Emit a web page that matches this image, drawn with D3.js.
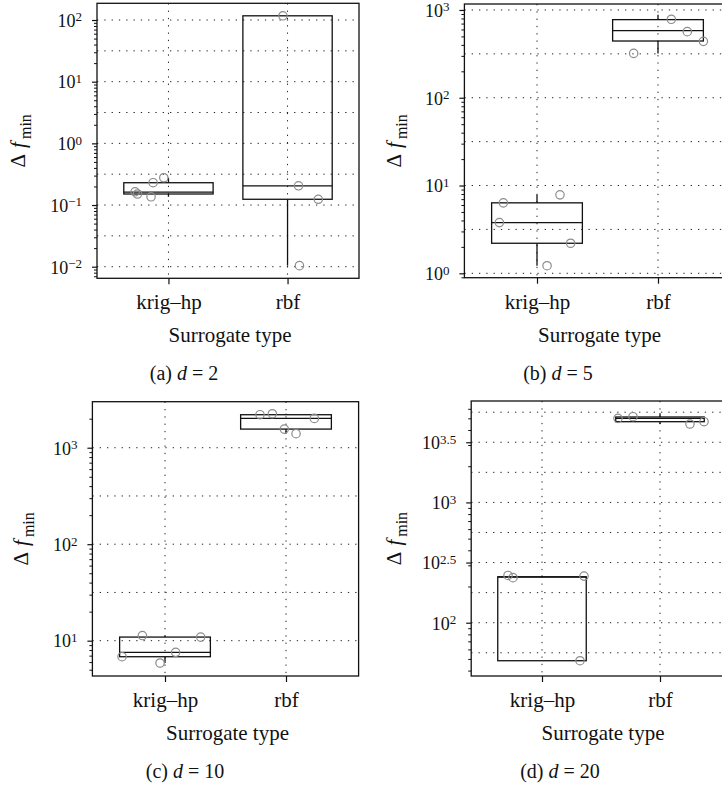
<!DOCTYPE html>
<html>
<head>
<meta charset="utf-8">
<script src="https://cdn.jsdelivr.net/npm/d3@7"></script>
<style>
  html, body { margin: 0; padding: 0; background: #fff; }
  svg, svg text { font-family: "Liberation Serif", "Times New Roman", serif; }
  svg { display: block; }
</style>
</head>
<body>
<svg id="fig" width="722" height="788"></svg>
<script>
// ---------- data ----------
const categories = ["krig–hp", "rbf"];
const dimensions = [2, 5, 10, 20];
const panelTags = ["(a)", "(b)", "(c)", "(d)"];

// y-axis limits, as log10 exponents
const limits_d2 = [-2.188, 2.271];
const limits_d5 = [-0.050, 3.068];
const limits_d10 = [0.634, 3.477];
const limits_d20 = [1.557, 3.843];

// labelled tick exponents (10^e)
const ticks_d2 = [-2, -1, 0, 1, 2];
const ticks_d5 = [0, 1, 2, 3];
const ticks_d10 = [1, 2, 3];
const ticks_d20 = [2, 2.5, 3, 3.5];

// spacing of the dotted reference lines, in decades
const gridStep_d2 = 0.5;
const gridStep_d5 = 0.5;
const gridStep_d10 = 0.5;
const gridStep_d20 = 0.25;

// box summaries: [lower whisker, Q1, median, Q3, upper whisker]
const boxKrig_d2 = [0.136, 0.151, 0.162, 0.23, 0.277];
const boxRbf_d2 = [0.0104, 0.124, 0.205, 117, 117];
const boxKrig_d5 = [1.22, 2.2, 3.78, 6.35, 7.83];
const boxRbf_d5 = [320, 443, 581, 776, 885];
const boxKrig_d10 = [5.87, 6.82, 7.57, 10.9, 11.3];
const boxRbf_d10 = [1397, 1560, 2014, 2198, 2250];
const boxKrig_d20 = [48.3, 48.3, 239, 241, 247];
const boxRbf_d20 = [4487, 4688, 5000, 5129, 5500];

// individual runs (Δf_min) and their jittered category positions
const runsKrig_d2 = [0.164, 0.151, 0.136, 0.23, 0.277];
const jitKrig_d2 = [-0.28, -0.26, -0.146, -0.129, -0.039];
const runsRbf_d2 = [117, 0.205, 0.124, 0.0104];
const jitRbf_d2 = [-0.039, 0.092, 0.258, 0.10];

const runsKrig_d5 = [6.35, 3.78, 7.83, 2.2, 1.22];
const jitKrig_d5 = [-0.278, -0.311, 0.19, 0.278, 0.083];
const runsRbf_d5 = [783, 566, 439, 320];
const jitRbf_d5 = [0.11, 0.242, 0.375, -0.201];

const runsKrig_d10 = [6.82, 11.3, 5.87, 7.57, 10.9];
const jitKrig_d10 = [-0.355, -0.187, -0.041, 0.088, 0.295];
const runsRbf_d10 = [2198, 2250, 1560, 1397, 2014];
const jitRbf_d10 = [-0.215, -0.113, -0.014, 0.083, 0.234];

const runsKrig_d20 = [247, 237, 244, 48.3];
const jitKrig_d20 = [-0.288, -0.246, 0.356, 0.322];
const runsRbf_d20 = [5000, 5159, 4487, 4688];
const jitRbf_d20 = [-0.356, -0.229, 0.254, 0.373];

// ---------- panel layout ----------
const panels = [
  { tag: panelTags[0], dim: dimensions[0], limits: limits_d2, ticks: ticks_d2, step: gridStep_d2,
    boxes: [boxKrig_d2, boxRbf_d2], runs: [runsKrig_d2, runsRbf_d2], jit: [jitKrig_d2, jitRbf_d2],
    x0: 97, x1: 359, y0: 3.3, y1: 278.3, ylabX: 25, capX: 184 },
  { tag: panelTags[1], dim: dimensions[1], limits: limits_d5, ticks: ticks_d5, step: gridStep_d5,
    boxes: [boxKrig_d5, boxRbf_d5], runs: [runsKrig_d5, runsRbf_d5], jit: [jitKrig_d5, jitRbf_d5],
    x0: 464.4, x1: 730.6, y0: 4, y1: 277.7, ylabX: 401, capX: 558 },
  { tag: panelTags[2], dim: dimensions[2], limits: limits_d10, ticks: ticks_d10, step: gridStep_d10,
    boxes: [boxKrig_d10, boxRbf_d10], runs: [runsKrig_d10, runsRbf_d10], jit: [jitKrig_d10, jitRbf_d10],
    x0: 92.4, x1: 358.6, y0: 401.7, y1: 676, ylabX: 28, capX: 185 },
  { tag: panelTags[3], dim: dimensions[3], limits: limits_d20, ticks: ticks_d20, step: gridStep_d20,
    boxes: [boxKrig_d20, boxRbf_d20], runs: [runsKrig_d20, runsRbf_d20], jit: [jitKrig_d20, jitRbf_d20],
    x0: 471.2, x1: 730.8, y0: 401, y1: 676, ylabX: 401, capX: 560 }
];

const svg = d3.select("#fig");
const INK = "#111";
const DOTS = "1.3 6";
const SERIF = '"Liberation Serif", "Times New Roman", serif';

function drawPanel(p) {
  const g = svg.append("g");
  const x = d3.scaleLinear().domain([0.4, 2.6]).range([p.x0, p.x1]);
  const y = d3.scaleLog().domain([10 ** p.limits[0], 10 ** p.limits[1]]).range([p.y1, p.y0]);
  const halfBox = 0.375;

  // dotted horizontal reference lines
  const gridExp = d3.range(Math.ceil(p.limits[0] / p.step) * p.step, p.limits[1], p.step);
  g.append("g").selectAll("line").data(gridExp).join("line")
    .attr("x1", p.x0).attr("x2", p.x1)
    .attr("y1", e => y(10 ** e)).attr("y2", e => y(10 ** e))
    .attr("stroke", "#222").attr("stroke-width", 1).attr("stroke-dasharray", DOTS);

  // dotted vertical reference lines at the categories
  g.append("g").selectAll("line").data([1, 2]).join("line")
    .attr("x1", d => x(d)).attr("x2", d => x(d))
    .attr("y1", p.y0).attr("y2", p.y1)
    .attr("stroke", "#222").attr("stroke-width", 1).attr("stroke-dasharray", DOTS);

  // box-and-whisker marks
  p.boxes.forEach((b, i) => {
    const cx = x(i + 1);
    const bg = g.append("g").attr("stroke", INK).attr("stroke-width", 1.3).attr("fill", "none");
    bg.append("line").attr("x1", cx).attr("x2", cx).attr("y1", y(b[1])).attr("y2", y(b[0]));
    bg.append("line").attr("x1", cx).attr("x2", cx).attr("y1", y(b[3])).attr("y2", y(b[4]));
    bg.append("rect")
      .attr("x", x(i + 1 - halfBox)).attr("width", x(i + 1 + halfBox) - x(i + 1 - halfBox))
      .attr("y", y(b[3])).attr("height", y(b[1]) - y(b[3]));
    bg.append("line").attr("x1", x(i + 1 - halfBox)).attr("x2", x(i + 1 + halfBox))
      .attr("y1", y(b[2])).attr("y2", y(b[2]));
  });

  // jittered runs
  p.runs.forEach((vals, i) => {
    g.append("g").selectAll("circle").data(vals).join("circle")
      .attr("cx", (v, k) => x(i + 1 + p.jit[i][k]))
      .attr("cy", v => y(v))
      .attr("r", 4.2)
      .attr("fill", "none").attr("stroke", "#8c8c8c").attr("stroke-width", 1.2);
  });

  // panel frame
  g.append("rect").attr("x", p.x0).attr("y", p.y0)
    .attr("width", p.x1 - p.x0).attr("height", p.y1 - p.y0)
    .attr("fill", "none").attr("stroke", INK).attr("stroke-width", 1.3);

  // minor log ticks
  const minors = [];
  for (let k = Math.floor(p.limits[0]); k <= Math.ceil(p.limits[1]); k++) {
    for (let m = 2; m <= 9; m++) {
      const v = m * 10 ** k;
      const e = Math.log10(v);
      if (e > p.limits[0] && e < p.limits[1]) minors.push(v);
    }
  }
  const minorAxis = g.append("g").attr("transform", `translate(${p.x0},0)`)
    .call(d3.axisLeft(y).tickValues(minors).tickSize(3).tickSizeOuter(0).tickFormat(() => ""));
  minorAxis.select(".domain").remove();
  minorAxis.selectAll(".tick line").attr("stroke", INK).attr("stroke-width", 1);

  // major ticks with 10^e labels
  const majorAxis = g.append("g").attr("transform", `translate(${p.x0},0)`)
    .call(d3.axisLeft(y).tickValues(p.ticks.map(e => 10 ** e)).tickSize(5)
      .tickSizeOuter(0).tickPadding(10).tickFormat(() => ""));
  majorAxis.attr("font-family", null).attr("font-size", null);
  majorAxis.select(".domain").remove();
  majorAxis.selectAll(".tick line").attr("stroke", INK).attr("stroke-width", 1.2);
  majorAxis.selectAll(".tick text")
    .style("font-family", SERIF).style("font-size", "18px")
    .attr("fill", INK).attr("dy", "0.35em")
    .each(function (v) {
      const e = Math.round(Math.log10(v) * 100) / 100;
      const t = d3.select(this);
      t.append("tspan").style("font-size", "18px").text("10");
      t.append("tspan").style("font-size", "13px").attr("dy", "-0.42em")
        .text(String(e).replace("-", "\u2212"));
    });

  // category axis
  const catAxis = g.append("g").attr("transform", `translate(0,${p.y1})`)
    .call(d3.axisBottom(x).tickValues([1, 2]).tickSize(6).tickSizeOuter(0).tickPadding(10)
      .tickFormat(d => categories[d - 1]));
  catAxis.attr("font-family", null).attr("font-size", null);
  catAxis.select(".domain").remove();
  catAxis.selectAll(".tick line").attr("stroke", INK).attr("stroke-width", 1.2);
  catAxis.selectAll(".tick text").style("font-family", SERIF)
    .style("font-size", "21px").attr("fill", INK);

  // axis titles
  g.append("text").attr("x", (p.x0 + p.x1) / 2 + 2).attr("y", p.y1 + 64)
    .attr("text-anchor", "middle").style("font-size", "21px").attr("fill", INK)
    .text("Surrogate type");

  const yl = g.append("text")
    .attr("transform", `translate(${p.ylabX},${(p.y0 + p.y1) / 2}) rotate(-90)`)
    .attr("text-anchor", "middle").attr("fill", INK).style("font-size", "21px");
  yl.append("tspan").text("Δ");
  yl.append("tspan").attr("dx", 6).style("font-style", "italic").text("f");
  yl.append("tspan").attr("dx", 3).attr("dy", 6).style("font-size", "16px").text("min");

  // sub-figure caption
  const cap = g.append("text").attr("x", p.capX).attr("y", p.y1 + 102)
    .attr("text-anchor", "middle").style("font-size", "20px").attr("fill", INK);
  cap.append("tspan").text(p.tag + " ");
  cap.append("tspan").style("font-style", "italic").text("d");
  cap.append("tspan").text(" = " + p.dim);
}

panels.forEach(drawPanel);
</script>
</body>
</html>
